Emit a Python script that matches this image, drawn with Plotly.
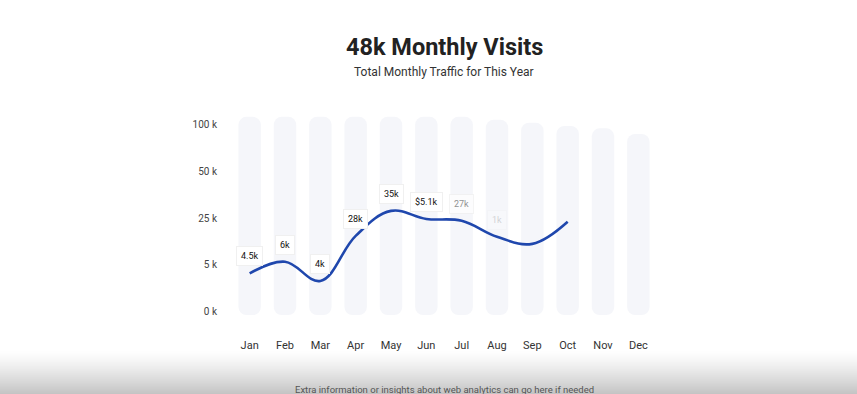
import numpy as np
import plotly.graph_objects as go

months = ["Jan", "Feb", "Mar", "Apr", "May", "Jun", "Jul", "Aug", "Sep", "Oct", "Nov", "Dec"]
visits_k = [4.1, 6.4, 3.3, 17.4, 28.8, 24.6, 23.8, 17.0, 14.0, 23.4]
point_labels = ["4.5k", "6k", "4k", "28k", "35k", "$5.1k", "27k", "1k", "", ""]
label_opacity = [1, 1, 1, 1, 1, 1, 0.7, 0.25, 0, 0]
track_heights = [4.155, 4.155, 4.155, 4.155, 4.155, 4.155, 4.155, 4.09, 4.03, 3.96, 3.91, 3.79]
tick_values_k = [0, 5, 25, 50, 100]
tick_labels = ["0 k", "5 k", "25 k", "50 k", "100 k"]

tick_pos = list(range(len(tick_values_k)))
y_mapped = np.interp(visits_k, tick_values_k, tick_pos)
base = -0.065

fig = go.Figure()
fig.add_trace(go.Bar(
    x=months, y=[h - base for h in track_heights], base=base,
    marker=dict(color="#f5f6fa", line=dict(width=0), cornerradius=8),
    width=0.635, hoverinfo="skip", showlegend=False,
))
fig.add_trace(go.Scatter(
    x=months[:len(visits_k)], y=y_mapped, mode="lines",
    line=dict(color="#1f47ad", width=2.6, shape="spline", smoothing=1.1),
    showlegend=False,
))

for m, yv, txt, op in zip(months, y_mapped, point_labels, label_opacity):
    if not txt:
        continue
    fig.add_annotation(
        x=m, y=yv, yshift=17, text=txt, showarrow=False,
        font=dict(family="Roboto", size=9, color="#111" if op == 1 else "#666"),
        bgcolor="white", bordercolor="#f0f0f0", borderwidth=1, borderpad=4,
        opacity=op,
    )

ph = 209.0
fig.add_annotation(x=0.5, y=(319 - 47) / ph, xref="paper", yref="paper", showarrow=False,
                   yanchor="middle", text="<b>48k Monthly Visits</b>",
                   font=dict(family="Roboto", size=23.5, color="#222"))
fig.add_annotation(x=0.5, y=(319 - 72) / ph, xref="paper", yref="paper", showarrow=False,
                   yanchor="middle", text="Total Monthly Traffic for This Year",
                   font=dict(family="Roboto", size=12, color="#333"))
fig.add_annotation(x=0.5, y=(319 - 389) / ph, xref="paper", yref="paper", showarrow=False,
                   yanchor="middle",
                   text="Extra information or insights about web analytics can go here if needed",
                   font=dict(family="Roboto", size=9.5, color="#555"))

# bottom gradient band
n = 44
top_px, bot_px = 350.0, 394.0
for i in range(n):
    y0px = top_px + (bot_px - top_px) * i / n
    y1px = top_px + (bot_px - top_px) * (i + 1) / n + 0.6
    t = (i + 0.5) / n
    g = int(round(255 - 60 * t ** 1.3))
    fig.add_shape(type="rect", xref="paper", yref="paper",
                  x0=-232 / 424, x1=1 + 201 / 424,
                  y0=(319 - y1px) / ph, y1=(319 - y0px) / ph,
                  fillcolor=f"rgb({g},{g},{g})", line=dict(width=0), layer="below")

fig.update_layout(
    width=857, height=394,
    margin=dict(l=232, r=201, t=110, b=75),
    paper_bgcolor="white", plot_bgcolor="white",
    font=dict(family="Roboto"),
    bargap=0.365,
    xaxis=dict(type="category", range=[-0.5, 11.5], showgrid=False, zeroline=False,
               showline=False, ticks="", ticklabelstandoff=18,
               tickfont=dict(size=11, color="#333")),
    yaxis=dict(range=[-0.15, 4.3], tickvals=tick_pos, ticktext=tick_labels,
               showgrid=False, zeroline=False, showline=False, ticks="",
               ticklabelstandoff=14, tickfont=dict(size=10, color="#444")),
)

fig.write_html("out.html", config={"displayModeBar": False},
               post_script="document.body.style.margin='0';")
